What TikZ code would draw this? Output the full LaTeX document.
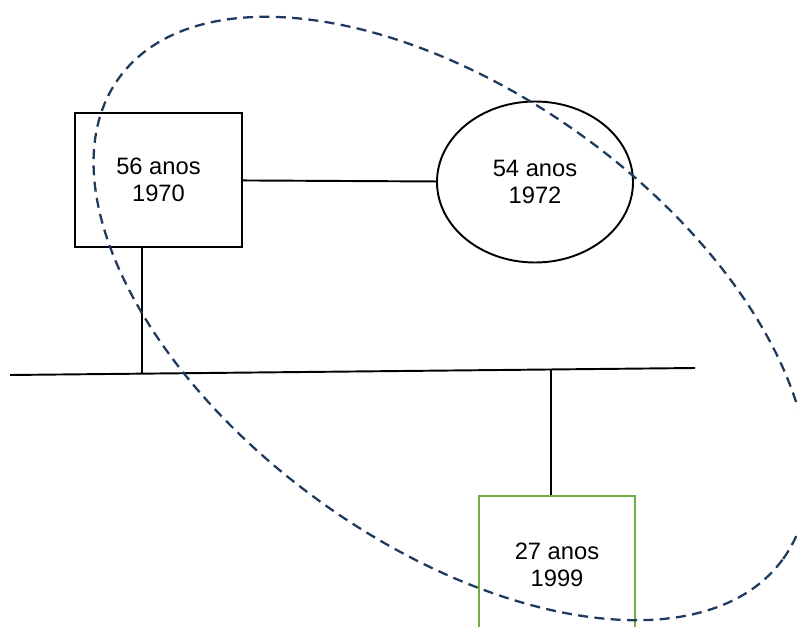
\documentclass[tikz,border=0pt]{standalone}
\usepackage{fontspec}
\setmainfont{Liberation Sans}
\usetikzlibrary{shapes.geometric}
\definecolor{famblue}{RGB}{31,58,92}
\definecolor{kidgreen}{RGB}{112,173,71}
\tikzset{person/.style={draw, line width=1.1pt, align=center, inner sep=0mm, font=\fontsize{13.5}{15.5}\selectfont},
  male/.style={person, rectangle},
  female/.style={person, ellipse},
  tie/.style={line width=1.1pt},
  household/.style={draw=famblue, line width=1.3pt, dash pattern=on 5.7pt off 3.6pt}}

\begin{document}
\begin{tikzpicture}
    \useasboundingbox (0,0) rectangle (15.94,12.52);
    \clip (0,0) rectangle (15.94,12.52);

    \node (dad) at (3.17cm, 8.92cm) [male, minimum width=3.34cm, minimum height=2.68cm] {56 anos\\1970};
    \node (mom) at (10.7cm, 8.88cm) [female, minimum width=3.92cm, minimum height=3.22cm] {54 anos\\1972};
    \node (kid) at (11.14cm, 1.22cm) [male, draw=kidgreen, minimum width=3.12cm, minimum height=2.76cm] {27 anos\\1999};

    \coordinate (sl) at (0.2cm, 5.02cm);
    \coordinate (sr) at (13.9cm, 5.16cm);
    \coordinate (dadleg) at (2.84cm, 7.58cm);
    \coordinate (j1) at (2.84cm, 5.05cm);
    \coordinate (j2) at (11.02cm, 5.13cm);

    \draw[tie] (dad) -- (mom);
    \draw[tie] (sl) -- (sr);
    \draw[tie] (dadleg) -- (j1);
    \draw[tie] (j2) -- (j2 |- kid.north);

    % household
    \coordinate (hc) at (9.02cm, 6.15cm);
    \draw[household, shift={(hc)}, rotate=-35.9] (0,0) ellipse (8.2cm and 4.5cm);
\end{tikzpicture}
\end{document}
